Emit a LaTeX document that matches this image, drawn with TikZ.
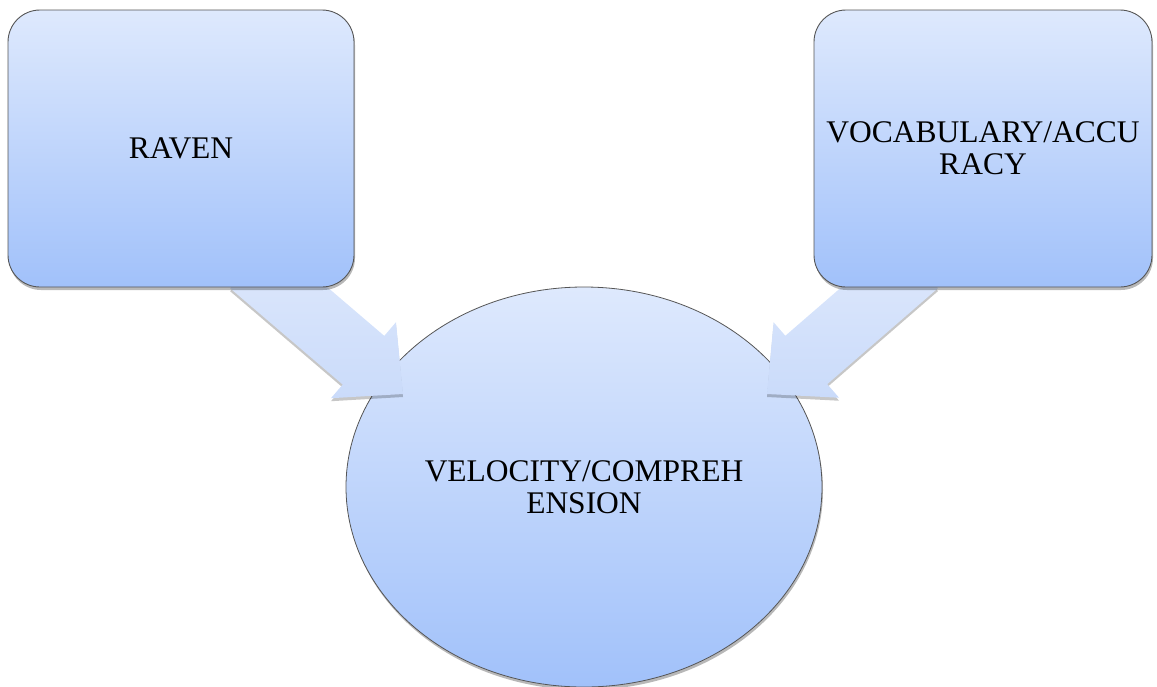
\documentclass[tikz,border=0pt]{standalone}
\usepackage{fontspec}
\setmainfont{Liberation Serif}
\usetikzlibrary{shapes.geometric,shadows,calc}
\definecolor{gtop}{RGB}{222,233,253}
\definecolor{gbot}{RGB}{161,193,250}
\definecolor{atop}{RGB}{223,233,252}
\definecolor{abot}{RGB}{202,219,250}
\definecolor{edge}{RGB}{85,85,85}
\tikzset{
  softshadow/.style={drop shadow={shadow xshift=1pt, shadow yshift=-3pt, opacity=0.28, fill=black}},
  boxstyle/.style={rectangle, rounded corners=32pt, draw=edge, line width=0.9pt,
    top color=gtop, bottom color=gbot, softshadow, align=center, inner sep=0pt,
    font=\fontsize{31.5}{32}\selectfont},
  ellstyle/.style={ellipse, draw=edge, line width=0.8pt, top color=gtop, bottom color=gbot,
    softshadow, align=center, inner sep=0pt, font=\fontsize{31.5}{32}\selectfont},
  arrowfill/.style={top color=atop, bottom color=abot,
    drop shadow={shadow xshift=0pt, shadow yshift=-3pt, opacity=0.22, fill=black}}
}
\newcommand{\blockarrowdraw}[2]{%
  \path[arrowfill] (#2)
    -- ($($(#2)!52pt!(#1)$)!50pt!90:(#2)$)
    -- ($($(#2)!52pt!(#1)$)!32pt!90:(#2)$)
    -- ($(#1)!32pt!90:(#2)$)
    -- ($(#1)!32pt!-90:(#2)$)
    -- ($($(#2)!52pt!(#1)$)!32pt!-90:(#2)$)
    -- ($($(#2)!52pt!(#1)$)!50pt!-90:(#2)$)
    -- cycle;}
\begin{document}
\begin{tikzpicture}[x=1pt,y=-1pt]
\useasboundingbox (0,0) rectangle (1157,686);
\node[ellstyle, minimum width=476pt, minimum height=400pt] (vel) at (584,487) {VELOCITY/COMPREH\\ENSION};
\coordinate (ls) at (251,264);
\coordinate (lt) at (403,394);
\coordinate (rs) at (917,264);
\coordinate (rt) at (767,394);
\blockarrowdraw{ls}{lt}
\blockarrowdraw{rs}{rt}
\node[boxstyle, minimum width=346pt, minimum height=277pt] (raven) at (181,148.5) {RAVEN};
\node[boxstyle, minimum width=338pt, minimum height=277pt] (vocab) at (983,148.5) {VOCABULARY/ACCU\\RACY};
\end{tikzpicture}
\end{document}
